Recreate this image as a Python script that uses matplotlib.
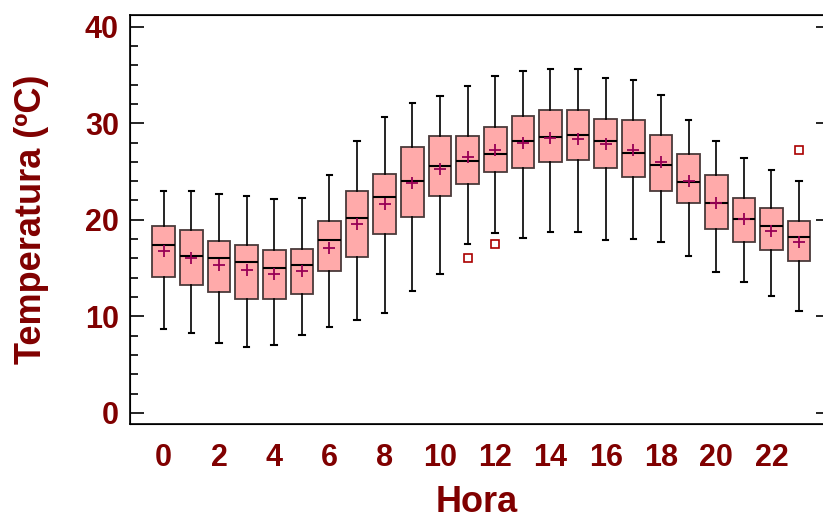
import matplotlib.pyplot as plt
from matplotlib.ticker import MultipleLocator

# hourly temperature box plot data
horas = list(range(24))
whisk_lo = [8.66, 8.32, 7.21, 6.83, 7.07, 8.04, 8.9, 9.63, 10.35, 12.63, 14.35, 17.5,
            18.6, 18.12, 18.74, 18.74, 17.87, 17.98, 17.74, 16.29, 14.6, 13.6, 12.15, 10.59]
q1 = [14.11, 13.25, 12.49, 11.8, 11.8, 12.28, 14.7, 16.18, 18.5, 20.29, 22.5, 23.7,
      24.91, 25.4, 25.98, 26.22, 25.4, 24.43, 22.98, 21.77, 19.08, 17.74, 16.91, 15.7]
mediana = [17.39, 16.29, 16.08, 15.6, 14.98, 15.32, 17.87, 20.19, 22.36, 24.05, 25.53, 26.12,
           26.85, 28.16, 28.54, 28.78, 28.16, 26.95, 25.64, 23.95, 21.77, 20.05, 19.32, 18.25]
q3 = [19.32, 18.98, 17.77, 17.39, 16.91, 17.01, 19.91, 22.95, 24.78, 27.57, 28.64, 28.64,
      29.6, 30.71, 31.33, 31.33, 30.47, 30.37, 28.78, 26.85, 24.67, 22.22, 21.26, 19.84]
whisk_hi = [22.98, 22.98, 22.64, 22.5, 22.12, 22.26, 24.67, 28.16, 30.6, 32.06, 32.78, 33.85,
            34.85, 35.44, 35.58, 35.58, 34.71, 34.47, 32.92, 30.37, 28.16, 26.36, 25.16, 24.05]
media = [16.8, 16.01, 15.29, 14.8, 14.42, 14.7, 17.12, 19.53, 21.6, 23.77, 25.22, 26.5,
         27.19, 27.92, 28.44, 28.41, 27.88, 27.23, 25.98, 24.0, 21.7, 20.1, 18.84, 17.74]
atipicos = {11: [16.05], 12: [17.5], 23: [27.23]}

rojo = "#800000"

stats = []
for i in horas:
    stats.append({
        "whislo": whisk_lo[i], "q1": q1[i], "med": mediana[i], "q3": q3[i],
        "whishi": whisk_hi[i], "mean": media[i], "fliers": atipicos.get(i, []),
    })

fig = plt.figure(figsize=(8.23, 5.18), dpi=100)
ax = fig.add_axes([0.158, 0.1815, 0.8415, 0.7895])

ax.bxp(stats, positions=horas, widths=0.82, capwidths=0.2, patch_artist=True,
       showmeans=True,
       boxprops=dict(facecolor="#FFAAAA", edgecolor="#4a3a3a", linewidth=1.3),
       medianprops=dict(color="black", linewidth=1.5),
       whiskerprops=dict(color="black", linewidth=1.2),
       capprops=dict(color="black", linewidth=1.5),
       meanprops=dict(marker="+", markeredgecolor="#990055", markersize=8, markeredgewidth=1.3),
       flierprops=dict(marker="s", markerfacecolor="white", markeredgecolor="#aa0000",
                       markersize=6, markeredgewidth=1.2))

ax.set_xlim(-1.22, 23.85)
ax.set_ylim(-1.14, 41.2)
ax.set_xticks(range(0, 24, 2))
ax.set_xticklabels([str(h) for h in range(0, 24, 2)])
ax.yaxis.set_major_locator(MultipleLocator(10))
ax.yaxis.set_minor_locator(MultipleLocator(2))

fuente = ["Liberation Sans", "DejaVu Sans"]
ax.tick_params(axis="x", length=0, pad=14, labelsize=22, labelcolor=rojo)
ax.tick_params(axis="y", which="major", direction="in", length=10, width=1.2,
               labelsize=22, labelcolor=rojo, pad=8)
ax.tick_params(axis="y", which="minor", direction="in", length=6, width=1.2)
for lab in ax.get_xticklabels() + ax.get_yticklabels():
    lab.set_family(fuente)
    lab.set_fontweight("bold")

# short ticks on the right edge, major values only
der = ax.twinx()
der.set_ylim(ax.get_ylim())
der.yaxis.set_major_locator(MultipleLocator(10))
der.tick_params(axis="y", direction="in", length=5, width=1.2, labelright=False)
for a in (ax, der):
    a.spines["right"].set_visible(False)

ax.set_xlabel("Hora", fontsize=26, fontweight="bold", color=rojo, family=fuente, labelpad=8)
ax.set_ylabel("Temperatura (ºC)", fontsize=26, fontweight="bold", color=rojo, family=fuente,
              labelpad=26)

for s in ax.spines.values():
    s.set_linewidth(1.2)

fig.savefig("out.png", dpi=100)
